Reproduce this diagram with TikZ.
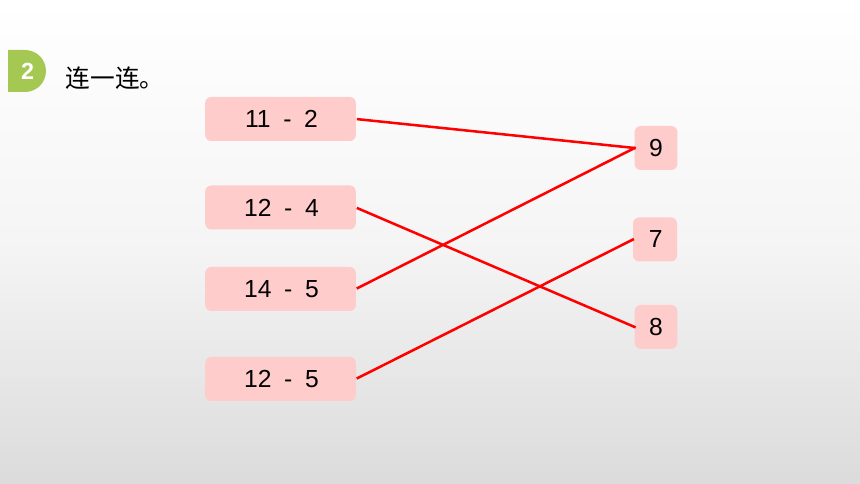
\documentclass[tikz,border=0pt]{standalone}
\usepackage{fontspec}
\setmainfont{Liberation Sans}
\newfontfamily\cjkfont{Noto Sans CJK SC}
\usepackage{xcolor}
\usepackage{tikz}
\usetikzlibrary{positioning}
\definecolor{boxpink}{HTML}{FFCCCC}
\definecolor{badgegreen}{HTML}{A5C853}
\newcommand{\subexpr}[2]{\hspace{1.5pt}#1\hspace{9.5pt}-\hspace{9.5pt}#2}
\begin{document}
\begin{tikzpicture}[x=0.75pt,y=-0.75pt]
	\tikzstyle{vertex}=[rectangle,fill=boxpink,rounded corners=4.5pt,minimum height=33pt,inner sep=0pt,outer sep=0pt,font=\fontsize{18.5}{20}\selectfont]
	\tikzstyle{expr}=[vertex,minimum width=113pt]
	\tikzstyle{result}=[vertex,minimum width=32pt]
	\tikzstyle{link}=[draw=red,line width=1.9pt,shorten <=0.75pt,shorten >=-0.75pt]
	\shade[top color=white,bottom color=white!86!black,middle color=white!96!black] (0,0) rectangle (860,484);
	\useasboundingbox (0,0) rectangle (860,484);
	% badge
	\fill[badgegreen] (8,50) -- (25,50) arc[start angle=90,end angle=-90,radius=15.75pt] -- (8,92) -- cycle;
	\node[text=white,font=\fontsize{17.5}{18}\selectfont\bfseries](badge) at (27.5,71) {2};
	\node[anchor=west,font=\cjkfont\fontsize{18.5}{20}\selectfont](title) at (61,78) {连一连。};
	% left column
	\node[expr](e1) at (280.5,119) {\subexpr{11}{2}};
	\node[expr](e2) at (280.5,207.5) {\subexpr{12}{4}};
	\node[expr](e3) at (280.5,289) {\subexpr{14}{5}};
	\node[expr](e4) at (280.5,379) {\subexpr{12}{5}};
	% right column
	\node[result](r9) at (656,148) {9};
	\node[result,minimum width=33pt](r7) at (655,239.5) {\hspace{1pt}7};
	\node[result](r8) at (656,327) {8};
	% lines
	\draw[link](e1.east) -- (r9.west);
	\draw[link](e2.east) -- (r8.west);
	\draw[link](e3.east) -- (r9.west);
	\draw[link](e4.east) -- (r7.west);
\end{tikzpicture}
\end{document}
